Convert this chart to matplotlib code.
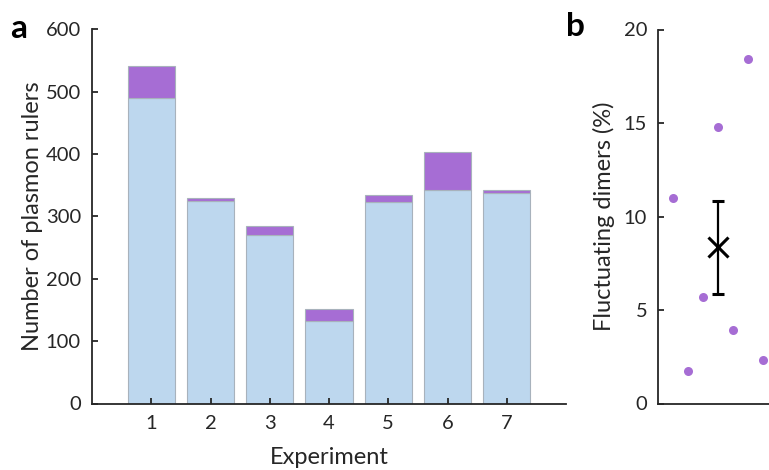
import matplotlib
matplotlib.use("Agg")
import matplotlib.pyplot as plt
import numpy as np

plt.rcParams['font.family'] = ['Lato', 'DejaVu Sans']

experiments = [1, 2, 3, 4, 5, 6, 7]
stable = [490, 325, 270, 133, 323, 342, 337]
total = [542, 329, 285, 152, 334, 404, 343]
fluct = [t - s for t, s in zip(total, stable)]

fluct_pct = [11.0, 1.75, 5.7, 14.8, 3.93, 18.4, 2.3]
mean_pct = 8.35
err_pct = 2.5

blue = '#BDD7EE'
purple = '#A66DD4'
edge = '#A8B2BC'
axcol = '#262626'

fig = plt.figure(figsize=(7.69, 4.70), dpi=100)

ax = fig.add_axes([92/769, (470-403.5)/470, 474/769, 374/470])
ax.bar(experiments, stable, width=0.8, color=blue, edgecolor=edge, linewidth=0.8)
ax.bar(experiments, fluct, bottom=stable, width=0.8, color=purple, edgecolor=edge, linewidth=0.8)
ax.set_xlim(0, 8)
ax.set_ylim(0, 600)
ax.set_xticks(experiments)
ax.set_yticks(range(0, 601, 100))
ax.set_xlabel('Experiment', fontsize=17, color=axcol, labelpad=11)
ax.set_ylabel('Number of plasmon rulers', fontsize=17, color=axcol, labelpad=2)
for s in ['top', 'right']:
    ax.spines[s].set_visible(False)
for s in ['left', 'bottom']:
    ax.spines[s].set_linewidth(1.3)
    ax.spines[s].set_color(axcol)
ax.tick_params(direction='in', length=4, width=1.3, colors=axcol, labelsize=14.5, pad=8)

bx = fig.add_axes([658.3/769, (470-403.5)/470, 120/769, 374/470])
bx.plot(experiments, fluct_pct, 'o', color=purple, markersize=6.5, markeredgewidth=0)
bx.errorbar([4], [mean_pct], yerr=[err_pct], fmt='x', color='black', markersize=14,
            markeredgewidth=2.2, elinewidth=1.6, capsize=4, capthick=1.6)
bx.set_xlim(0, 8)
bx.set_ylim(0, 20)
bx.set_xticks([])
bx.set_yticks([0, 5, 10, 15, 20])
bx.set_ylabel('Fluctuating dimers (%)', fontsize=17, color=axcol, labelpad=6)
for s in ['top', 'right']:
    bx.spines[s].set_visible(False)
for s in ['left', 'bottom']:
    bx.spines[s].set_linewidth(1.3)
    bx.spines[s].set_color(axcol)
bx.tick_params(direction='in', length=4, width=1.3, colors=axcol, labelsize=14.5, pad=8)

fig.text(10/769, 1 - 38/470, 'a', fontsize=24, fontweight='bold', color='black')
fig.text(566/769, 1 - 36/470, 'b', fontsize=24, fontweight='bold', color='black')

fig.savefig('out.png', dpi=100)
